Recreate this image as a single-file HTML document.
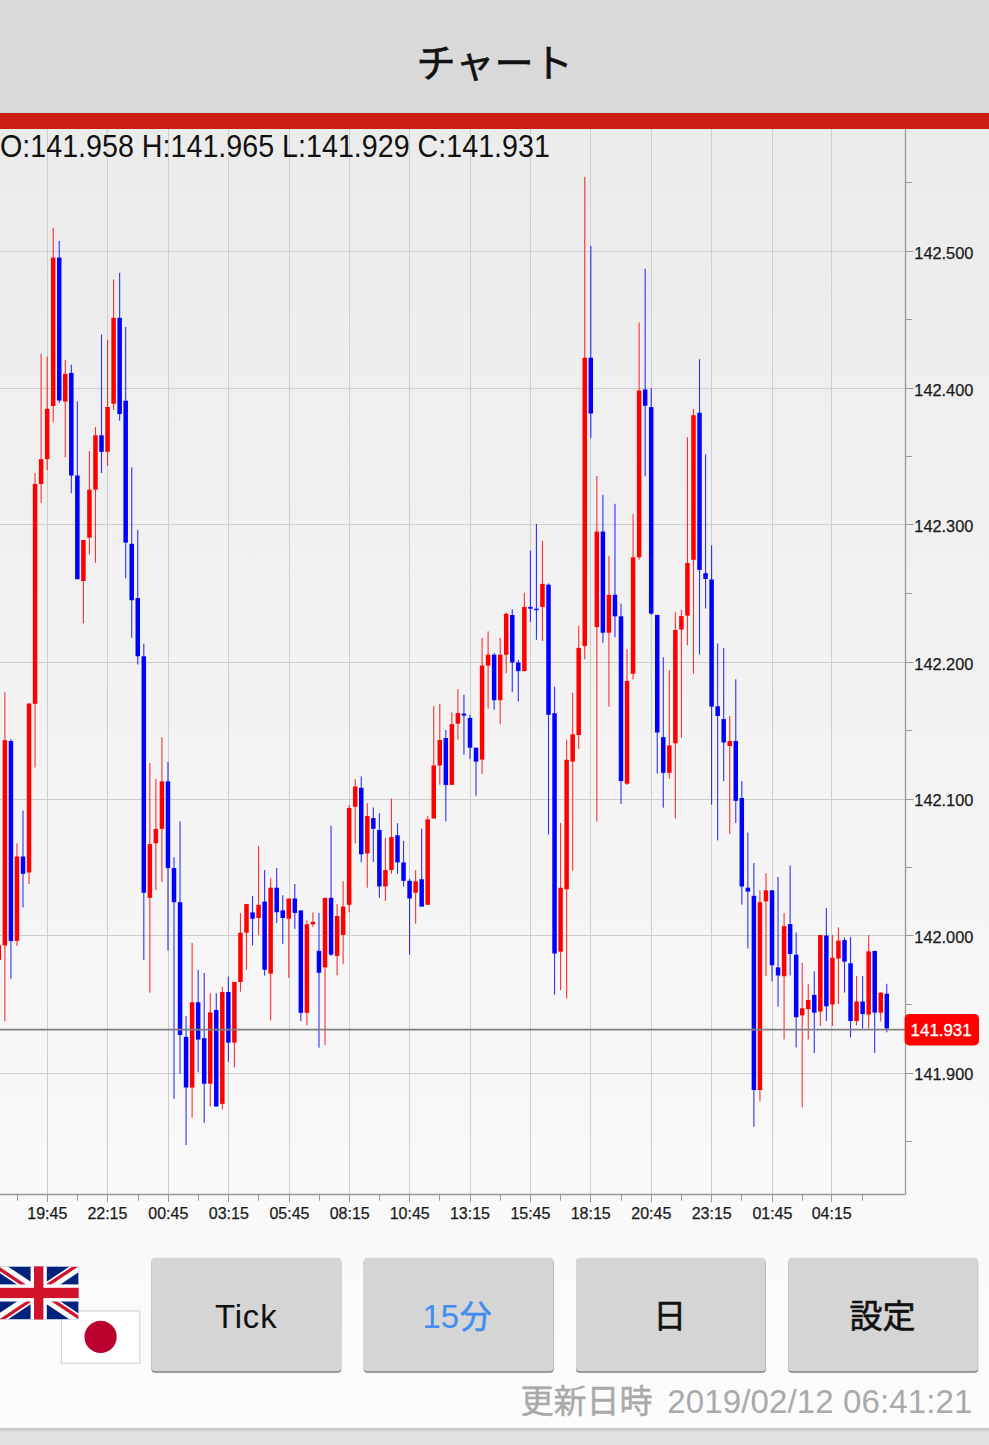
<!DOCTYPE html>
<html><head><meta charset="utf-8"><title>chart</title>
<style>
html,body{margin:0;padding:0;}
body{width:989px;height:1445px;overflow:hidden;background:#f4f4f4;font-family:"Liberation Sans",sans-serif;}
#root{position:relative;width:989px;height:1445px;overflow:hidden;background:linear-gradient(to bottom,#ebebeb 129px,#fcfcfc 1428px);}
#hdr{position:absolute;left:0;top:0;width:989px;height:113px;background:#d9d9d9;}
#bar{position:absolute;left:0;top:112.6px;width:989px;height:16.2px;background:#cc1e14;}
#ohlc{position:absolute;left:0.2px;top:128.9px;font-size:30.6px;line-height:34px;color:#111;white-space:nowrap;transform:scaleX(0.937);transform-origin:0 0;}
#foot{position:absolute;left:0;top:1427.8px;width:989px;height:18px;background:linear-gradient(to bottom,#c6c6c6 0,#cacaca 2px,#dcdcdc 3.5px,#e2e2e2 4.5px,#e2e2e2 100%);}
svg{position:absolute;left:0;top:0;}
svg text{font-family:"Liberation Sans",sans-serif;}
svg text.cjk{font-family:"Liberation Sans","Noto Sans CJK JP",sans-serif;}
.g{stroke:#cecece;stroke-width:1;}
.ax{stroke:#999;stroke-width:1.3;}
.tk{stroke:#999;stroke-width:1;}
.pl{font-size:16.35px;fill:#1a1a1a;stroke:#1a1a1a;stroke-width:0.25px;}
.tl{font-size:16px;fill:#1a1a1a;stroke:#1a1a1a;stroke-width:0.25px;}
</style></head>
<body>
<div id="root">
<div id="hdr"></div>
<div id="bar"></div>
<div id="foot"></div>
<svg width="989" height="1445" viewBox="0 0 989 1445">
<line x1="47.5" y1="129" x2="47.5" y2="1194.5" class="g"/>
<line x1="107.5" y1="129" x2="107.5" y2="1194.5" class="g"/>
<line x1="168.5" y1="129" x2="168.5" y2="1194.5" class="g"/>
<line x1="228.5" y1="129" x2="228.5" y2="1194.5" class="g"/>
<line x1="289.5" y1="129" x2="289.5" y2="1194.5" class="g"/>
<line x1="349.5" y1="129" x2="349.5" y2="1194.5" class="g"/>
<line x1="409.5" y1="129" x2="409.5" y2="1194.5" class="g"/>
<line x1="470.5" y1="129" x2="470.5" y2="1194.5" class="g"/>
<line x1="530.5" y1="129" x2="530.5" y2="1194.5" class="g"/>
<line x1="590.5" y1="129" x2="590.5" y2="1194.5" class="g"/>
<line x1="651.5" y1="129" x2="651.5" y2="1194.5" class="g"/>
<line x1="711.5" y1="129" x2="711.5" y2="1194.5" class="g"/>
<line x1="772.5" y1="129" x2="772.5" y2="1194.5" class="g"/>
<line x1="831.5" y1="129" x2="831.5" y2="1194.5" class="g"/>
<line x1="0" y1="251.5" x2="913.5" y2="251.5" class="g"/>
<line x1="0" y1="388.5" x2="913.5" y2="388.5" class="g"/>
<line x1="0" y1="524.5" x2="913.5" y2="524.5" class="g"/>
<line x1="0" y1="662.5" x2="913.5" y2="662.5" class="g"/>
<line x1="0" y1="799.5" x2="913.5" y2="799.5" class="g"/>
<line x1="0" y1="935.5" x2="913.5" y2="935.5" class="g"/>
<line x1="0" y1="1073.5" x2="913.5" y2="1073.5" class="g"/>
<line x1="905.5" y1="129" x2="905.5" y2="1194.5" class="ax"/>
<line x1="0" y1="1194.5" x2="905.5" y2="1194.5" class="ax"/>
<line x1="905.5" y1="182.5" x2="911.9" y2="182.5" class="tk"/>
<line x1="905.5" y1="319.5" x2="911.9" y2="319.5" class="tk"/>
<line x1="905.5" y1="456.5" x2="911.9" y2="456.5" class="tk"/>
<line x1="905.5" y1="593.5" x2="911.9" y2="593.5" class="tk"/>
<line x1="905.5" y1="730.5" x2="911.9" y2="730.5" class="tk"/>
<line x1="905.5" y1="867.5" x2="911.9" y2="867.5" class="tk"/>
<line x1="905.5" y1="1004.5" x2="911.9" y2="1004.5" class="tk"/>
<line x1="905.5" y1="1141.5" x2="911.9" y2="1141.5" class="tk"/>
<line x1="905.5" y1="251.5" x2="913.3" y2="251.5" class="tk"/>
<line x1="905.5" y1="388.5" x2="913.3" y2="388.5" class="tk"/>
<line x1="905.5" y1="524.5" x2="913.3" y2="524.5" class="tk"/>
<line x1="905.5" y1="662.5" x2="913.3" y2="662.5" class="tk"/>
<line x1="905.5" y1="799.5" x2="913.3" y2="799.5" class="tk"/>
<line x1="905.5" y1="935.5" x2="913.3" y2="935.5" class="tk"/>
<line x1="905.5" y1="1073.5" x2="913.3" y2="1073.5" class="tk"/>
<line x1="17.5" y1="1194.5" x2="17.5" y2="1200.7" class="tk"/>
<line x1="47.5" y1="1194.5" x2="47.5" y2="1202.1" class="tk"/>
<line x1="77.5" y1="1194.5" x2="77.5" y2="1200.7" class="tk"/>
<line x1="107.5" y1="1194.5" x2="107.5" y2="1202.1" class="tk"/>
<line x1="138.5" y1="1194.5" x2="138.5" y2="1200.7" class="tk"/>
<line x1="168.5" y1="1194.5" x2="168.5" y2="1202.1" class="tk"/>
<line x1="198.5" y1="1194.5" x2="198.5" y2="1200.7" class="tk"/>
<line x1="228.5" y1="1194.5" x2="228.5" y2="1202.1" class="tk"/>
<line x1="258.5" y1="1194.5" x2="258.5" y2="1200.7" class="tk"/>
<line x1="289.5" y1="1194.5" x2="289.5" y2="1202.1" class="tk"/>
<line x1="319.5" y1="1194.5" x2="319.5" y2="1200.7" class="tk"/>
<line x1="349.5" y1="1194.5" x2="349.5" y2="1202.1" class="tk"/>
<line x1="379.5" y1="1194.5" x2="379.5" y2="1200.7" class="tk"/>
<line x1="409.5" y1="1194.5" x2="409.5" y2="1202.1" class="tk"/>
<line x1="439.5" y1="1194.5" x2="439.5" y2="1200.7" class="tk"/>
<line x1="470.5" y1="1194.5" x2="470.5" y2="1202.1" class="tk"/>
<line x1="500.5" y1="1194.5" x2="500.5" y2="1200.7" class="tk"/>
<line x1="530.5" y1="1194.5" x2="530.5" y2="1202.1" class="tk"/>
<line x1="560.5" y1="1194.5" x2="560.5" y2="1200.7" class="tk"/>
<line x1="590.5" y1="1194.5" x2="590.5" y2="1202.1" class="tk"/>
<line x1="621.5" y1="1194.5" x2="621.5" y2="1200.7" class="tk"/>
<line x1="651.5" y1="1194.5" x2="651.5" y2="1202.1" class="tk"/>
<line x1="681.5" y1="1194.5" x2="681.5" y2="1200.7" class="tk"/>
<line x1="711.5" y1="1194.5" x2="711.5" y2="1202.1" class="tk"/>
<line x1="741.5" y1="1194.5" x2="741.5" y2="1200.7" class="tk"/>
<line x1="772.5" y1="1194.5" x2="772.5" y2="1202.1" class="tk"/>
<line x1="802.5" y1="1194.5" x2="802.5" y2="1200.7" class="tk"/>
<line x1="831.5" y1="1194.5" x2="831.5" y2="1202.1" class="tk"/>
<line x1="862.5" y1="1194.5" x2="862.5" y2="1200.7" class="tk"/>
<rect x="-1.72" y="940.0" width="1.1" height="25.0" fill="#ff0000" opacity="0.8"/>
<rect x="-3.42" y="945.4" width="4.5" height="14.4" fill="#ff0000"/>
<rect x="4.32" y="692.2" width="1.1" height="329.1" fill="#ff0000" opacity="0.8"/>
<rect x="2.62" y="740.2" width="4.5" height="205.2" fill="#ff0000"/>
<rect x="10.36" y="739.0" width="1.1" height="239.8" fill="#0000ff" opacity="0.8"/>
<rect x="8.66" y="741.0" width="4.5" height="199.9" fill="#0000ff"/>
<rect x="16.40" y="843.3" width="1.1" height="102.6" fill="#ff0000" opacity="0.8"/>
<rect x="14.70" y="856.5" width="4.5" height="84.4" fill="#ff0000"/>
<rect x="22.44" y="810.5" width="1.1" height="97.0" fill="#0000ff" opacity="0.8"/>
<rect x="20.74" y="856.5" width="4.5" height="17.3" fill="#0000ff"/>
<rect x="28.48" y="703.5" width="1.1" height="180.5" fill="#ff0000" opacity="0.8"/>
<rect x="26.78" y="703.5" width="4.5" height="169.0" fill="#ff0000"/>
<rect x="34.52" y="473.0" width="1.1" height="294.5" fill="#ff0000" opacity="0.8"/>
<rect x="32.82" y="483.9" width="4.5" height="219.9" fill="#ff0000"/>
<rect x="40.56" y="353.7" width="1.1" height="149.1" fill="#ff0000" opacity="0.8"/>
<rect x="38.86" y="459.1" width="4.5" height="24.8" fill="#ff0000"/>
<rect x="46.60" y="356.7" width="1.1" height="113.3" fill="#ff0000" opacity="0.8"/>
<rect x="44.90" y="408.8" width="4.5" height="50.3" fill="#ff0000"/>
<rect x="52.64" y="227.8" width="1.1" height="194.1" fill="#ff0000" opacity="0.8"/>
<rect x="50.94" y="257.6" width="4.5" height="148.4" fill="#ff0000"/>
<rect x="58.68" y="241.0" width="1.1" height="162.0" fill="#0000ff" opacity="0.8"/>
<rect x="56.98" y="257.6" width="4.5" height="142.9" fill="#0000ff"/>
<rect x="64.72" y="360.0" width="1.1" height="97.3" fill="#ff0000" opacity="0.8"/>
<rect x="63.02" y="373.9" width="4.5" height="27.6" fill="#ff0000"/>
<rect x="70.76" y="364.8" width="1.1" height="128.4" fill="#0000ff" opacity="0.8"/>
<rect x="69.06" y="372.9" width="4.5" height="102.6" fill="#0000ff"/>
<rect x="76.80" y="401.5" width="1.1" height="177.7" fill="#0000ff" opacity="0.8"/>
<rect x="75.10" y="475.5" width="4.5" height="103.7" fill="#0000ff"/>
<rect x="82.84" y="540.0" width="1.1" height="83.4" fill="#ff0000" opacity="0.8"/>
<rect x="81.14" y="540.0" width="4.5" height="41.0" fill="#ff0000"/>
<rect x="88.88" y="451.0" width="1.1" height="103.5" fill="#ff0000" opacity="0.8"/>
<rect x="87.18" y="489.7" width="4.5" height="48.0" fill="#ff0000"/>
<rect x="94.92" y="427.0" width="1.1" height="135.8" fill="#ff0000" opacity="0.8"/>
<rect x="93.22" y="435.3" width="4.5" height="54.4" fill="#ff0000"/>
<rect x="100.96" y="334.5" width="1.1" height="138.5" fill="#0000ff" opacity="0.8"/>
<rect x="99.26" y="435.3" width="4.5" height="16.5" fill="#0000ff"/>
<rect x="107.01" y="339.8" width="1.1" height="126.1" fill="#ff0000" opacity="0.8"/>
<rect x="105.31" y="407.0" width="4.5" height="44.8" fill="#ff0000"/>
<rect x="113.05" y="279.6" width="1.1" height="130.2" fill="#ff0000" opacity="0.8"/>
<rect x="111.35" y="317.8" width="4.5" height="85.9" fill="#ff0000"/>
<rect x="119.09" y="272.8" width="1.1" height="147.9" fill="#0000ff" opacity="0.8"/>
<rect x="117.39" y="317.8" width="4.5" height="96.3" fill="#0000ff"/>
<rect x="125.13" y="326.9" width="1.1" height="251.5" fill="#0000ff" opacity="0.8"/>
<rect x="123.43" y="400.7" width="4.5" height="141.9" fill="#0000ff"/>
<rect x="131.17" y="467.4" width="1.1" height="170.4" fill="#0000ff" opacity="0.8"/>
<rect x="129.47" y="543.8" width="4.5" height="56.4" fill="#0000ff"/>
<rect x="137.21" y="529.9" width="1.1" height="134.7" fill="#0000ff" opacity="0.8"/>
<rect x="135.51" y="598.1" width="4.5" height="58.2" fill="#0000ff"/>
<rect x="143.25" y="643.6" width="1.1" height="316.2" fill="#0000ff" opacity="0.8"/>
<rect x="141.55" y="656.3" width="4.5" height="236.5" fill="#0000ff"/>
<rect x="149.29" y="763.0" width="1.1" height="229.7" fill="#ff0000" opacity="0.8"/>
<rect x="147.59" y="844.1" width="4.5" height="53.7" fill="#ff0000"/>
<rect x="155.33" y="778.9" width="1.1" height="111.3" fill="#ff0000" opacity="0.8"/>
<rect x="153.63" y="828.9" width="4.5" height="14.4" fill="#ff0000"/>
<rect x="161.37" y="737.2" width="1.1" height="144.8" fill="#ff0000" opacity="0.8"/>
<rect x="159.67" y="781.4" width="4.5" height="47.5" fill="#ff0000"/>
<rect x="167.41" y="762.0" width="1.1" height="188.5" fill="#0000ff" opacity="0.8"/>
<rect x="165.71" y="781.4" width="4.5" height="86.7" fill="#0000ff"/>
<rect x="173.45" y="857.2" width="1.1" height="241.7" fill="#0000ff" opacity="0.8"/>
<rect x="171.75" y="868.1" width="4.5" height="34.1" fill="#0000ff"/>
<rect x="179.49" y="821.3" width="1.1" height="252.3" fill="#0000ff" opacity="0.8"/>
<rect x="177.79" y="902.2" width="4.5" height="132.7" fill="#0000ff"/>
<rect x="185.53" y="1016.2" width="1.1" height="128.9" fill="#0000ff" opacity="0.8"/>
<rect x="183.83" y="1036.9" width="4.5" height="50.6" fill="#0000ff"/>
<rect x="191.57" y="942.9" width="1.1" height="174.9" fill="#ff0000" opacity="0.8"/>
<rect x="189.87" y="1002.3" width="4.5" height="85.2" fill="#ff0000"/>
<rect x="197.61" y="970.0" width="1.1" height="102.3" fill="#0000ff" opacity="0.8"/>
<rect x="195.91" y="1002.3" width="4.5" height="37.2" fill="#0000ff"/>
<rect x="203.65" y="973.0" width="1.1" height="149.9" fill="#0000ff" opacity="0.8"/>
<rect x="201.95" y="1038.2" width="4.5" height="45.5" fill="#0000ff"/>
<rect x="209.69" y="993.2" width="1.1" height="113.3" fill="#ff0000" opacity="0.8"/>
<rect x="207.99" y="1012.4" width="4.5" height="71.3" fill="#ff0000"/>
<rect x="215.73" y="993.2" width="1.1" height="113.3" fill="#0000ff" opacity="0.8"/>
<rect x="214.03" y="1009.9" width="4.5" height="96.6" fill="#0000ff"/>
<rect x="221.77" y="986.9" width="1.1" height="122.6" fill="#ff0000" opacity="0.8"/>
<rect x="220.07" y="992.0" width="4.5" height="111.9" fill="#ff0000"/>
<rect x="227.81" y="976.7" width="1.1" height="85.3" fill="#0000ff" opacity="0.8"/>
<rect x="226.12" y="992.0" width="4.5" height="50.6" fill="#0000ff"/>
<rect x="233.86" y="982.0" width="1.1" height="85.2" fill="#ff0000" opacity="0.8"/>
<rect x="232.16" y="982.0" width="4.5" height="60.6" fill="#ff0000"/>
<rect x="239.90" y="913.0" width="1.1" height="78.7" fill="#ff0000" opacity="0.8"/>
<rect x="238.20" y="932.7" width="4.5" height="49.3" fill="#ff0000"/>
<rect x="245.94" y="904.1" width="1.1" height="65.8" fill="#ff0000" opacity="0.8"/>
<rect x="244.24" y="904.1" width="4.5" height="28.6" fill="#ff0000"/>
<rect x="251.98" y="896.0" width="1.1" height="49.3" fill="#0000ff" opacity="0.8"/>
<rect x="250.28" y="912.4" width="4.5" height="6.3" fill="#0000ff"/>
<rect x="258.02" y="845.9" width="1.1" height="89.0" fill="#ff0000" opacity="0.8"/>
<rect x="256.32" y="904.8" width="4.5" height="13.2" fill="#ff0000"/>
<rect x="264.06" y="870.0" width="1.1" height="105.6" fill="#0000ff" opacity="0.8"/>
<rect x="262.36" y="901.6" width="4.5" height="68.2" fill="#0000ff"/>
<rect x="270.10" y="878.3" width="1.1" height="142.1" fill="#ff0000" opacity="0.8"/>
<rect x="268.40" y="887.7" width="4.5" height="85.9" fill="#ff0000"/>
<rect x="276.14" y="867.9" width="1.1" height="55.1" fill="#0000ff" opacity="0.8"/>
<rect x="274.44" y="887.7" width="4.5" height="24.5" fill="#0000ff"/>
<rect x="282.18" y="895.2" width="1.1" height="48.6" fill="#0000ff" opacity="0.8"/>
<rect x="280.48" y="910.4" width="4.5" height="7.6" fill="#0000ff"/>
<rect x="288.22" y="898.5" width="1.1" height="79.6" fill="#ff0000" opacity="0.8"/>
<rect x="286.52" y="898.5" width="4.5" height="20.2" fill="#ff0000"/>
<rect x="294.26" y="883.9" width="1.1" height="45.0" fill="#0000ff" opacity="0.8"/>
<rect x="292.56" y="898.5" width="4.5" height="14.4" fill="#0000ff"/>
<rect x="300.30" y="910.4" width="1.1" height="110.7" fill="#0000ff" opacity="0.8"/>
<rect x="298.60" y="910.4" width="4.5" height="102.4" fill="#0000ff"/>
<rect x="306.34" y="920.5" width="1.1" height="104.9" fill="#ff0000" opacity="0.8"/>
<rect x="304.64" y="924.3" width="4.5" height="88.5" fill="#ff0000"/>
<rect x="312.38" y="912.4" width="1.1" height="14.4" fill="#ff0000" opacity="0.8"/>
<rect x="310.68" y="921.8" width="4.5" height="2.5" fill="#ff0000"/>
<rect x="318.42" y="912.9" width="1.1" height="134.8" fill="#0000ff" opacity="0.8"/>
<rect x="316.72" y="950.8" width="4.5" height="22.0" fill="#0000ff"/>
<rect x="324.46" y="897.8" width="1.1" height="147.3" fill="#ff0000" opacity="0.8"/>
<rect x="322.76" y="897.8" width="4.5" height="69.5" fill="#ff0000"/>
<rect x="330.50" y="825.7" width="1.1" height="130.2" fill="#0000ff" opacity="0.8"/>
<rect x="328.80" y="897.8" width="4.5" height="56.8" fill="#0000ff"/>
<rect x="336.54" y="904.1" width="1.1" height="71.3" fill="#ff0000" opacity="0.8"/>
<rect x="334.84" y="916.0" width="4.5" height="39.9" fill="#ff0000"/>
<rect x="342.58" y="881.3" width="1.1" height="82.9" fill="#ff0000" opacity="0.8"/>
<rect x="340.88" y="906.6" width="4.5" height="28.3" fill="#ff0000"/>
<rect x="348.62" y="805.0" width="1.1" height="107.4" fill="#ff0000" opacity="0.8"/>
<rect x="346.92" y="808.0" width="4.5" height="96.8" fill="#ff0000"/>
<rect x="354.67" y="779.0" width="1.1" height="64.4" fill="#ff0000" opacity="0.8"/>
<rect x="352.97" y="786.5" width="4.5" height="20.3" fill="#ff0000"/>
<rect x="360.71" y="776.4" width="1.1" height="86.0" fill="#0000ff" opacity="0.8"/>
<rect x="359.01" y="787.8" width="4.5" height="66.5" fill="#0000ff"/>
<rect x="366.75" y="803.0" width="1.1" height="84.7" fill="#ff0000" opacity="0.8"/>
<rect x="365.05" y="816.1" width="4.5" height="37.4" fill="#ff0000"/>
<rect x="372.79" y="807.5" width="1.1" height="54.4" fill="#0000ff" opacity="0.8"/>
<rect x="371.09" y="818.1" width="4.5" height="10.7" fill="#0000ff"/>
<rect x="378.83" y="813.1" width="1.1" height="84.7" fill="#0000ff" opacity="0.8"/>
<rect x="377.13" y="830.0" width="4.5" height="56.4" fill="#0000ff"/>
<rect x="384.87" y="837.9" width="1.1" height="63.1" fill="#ff0000" opacity="0.8"/>
<rect x="383.17" y="870.0" width="4.5" height="16.4" fill="#ff0000"/>
<rect x="390.91" y="798.7" width="1.1" height="75.1" fill="#ff0000" opacity="0.8"/>
<rect x="389.21" y="837.1" width="4.5" height="32.9" fill="#ff0000"/>
<rect x="396.95" y="823.2" width="1.1" height="50.6" fill="#0000ff" opacity="0.8"/>
<rect x="395.25" y="835.3" width="4.5" height="27.1" fill="#0000ff"/>
<rect x="402.99" y="840.9" width="1.1" height="45.5" fill="#0000ff" opacity="0.8"/>
<rect x="401.29" y="862.4" width="4.5" height="18.4" fill="#0000ff"/>
<rect x="409.03" y="878.8" width="1.1" height="75.8" fill="#0000ff" opacity="0.8"/>
<rect x="407.33" y="880.8" width="4.5" height="17.7" fill="#0000ff"/>
<rect x="415.07" y="870.0" width="1.1" height="53.6" fill="#ff0000" opacity="0.8"/>
<rect x="413.37" y="881.3" width="4.5" height="11.4" fill="#ff0000"/>
<rect x="421.11" y="828.8" width="1.1" height="77.8" fill="#0000ff" opacity="0.8"/>
<rect x="419.41" y="879.3" width="4.5" height="27.3" fill="#0000ff"/>
<rect x="427.15" y="816.1" width="1.1" height="88.7" fill="#ff0000" opacity="0.8"/>
<rect x="425.45" y="819.4" width="4.5" height="85.4" fill="#ff0000"/>
<rect x="433.19" y="706.0" width="1.1" height="112.5" fill="#ff0000" opacity="0.8"/>
<rect x="431.49" y="765.5" width="4.5" height="53.0" fill="#ff0000"/>
<rect x="439.23" y="704.0" width="1.1" height="80.6" fill="#ff0000" opacity="0.8"/>
<rect x="437.53" y="740.1" width="4.5" height="25.4" fill="#ff0000"/>
<rect x="445.27" y="730.0" width="1.1" height="91.5" fill="#0000ff" opacity="0.8"/>
<rect x="443.57" y="738.1" width="4.5" height="46.8" fill="#0000ff"/>
<rect x="451.31" y="712.3" width="1.1" height="72.6" fill="#ff0000" opacity="0.8"/>
<rect x="449.61" y="724.2" width="4.5" height="60.7" fill="#ff0000"/>
<rect x="457.35" y="689.1" width="1.1" height="50.5" fill="#ff0000" opacity="0.8"/>
<rect x="455.65" y="713.1" width="4.5" height="10.6" fill="#ff0000"/>
<rect x="463.39" y="694.6" width="1.1" height="60.2" fill="#0000ff" opacity="0.8"/>
<rect x="461.69" y="713.6" width="4.5" height="2.0" fill="#0000ff"/>
<rect x="469.43" y="714.9" width="1.1" height="44.2" fill="#0000ff" opacity="0.8"/>
<rect x="467.73" y="717.9" width="4.5" height="29.8" fill="#0000ff"/>
<rect x="475.48" y="747.7" width="1.1" height="48.1" fill="#0000ff" opacity="0.8"/>
<rect x="473.78" y="747.7" width="4.5" height="13.9" fill="#0000ff"/>
<rect x="481.52" y="637.8" width="1.1" height="136.0" fill="#ff0000" opacity="0.8"/>
<rect x="479.82" y="665.6" width="4.5" height="94.0" fill="#ff0000"/>
<rect x="487.56" y="631.4" width="1.1" height="77.1" fill="#ff0000" opacity="0.8"/>
<rect x="485.86" y="654.7" width="4.5" height="10.9" fill="#ff0000"/>
<rect x="493.60" y="652.9" width="1.1" height="56.9" fill="#0000ff" opacity="0.8"/>
<rect x="491.90" y="654.7" width="4.5" height="45.5" fill="#0000ff"/>
<rect x="499.64" y="637.8" width="1.1" height="86.4" fill="#ff0000" opacity="0.8"/>
<rect x="497.94" y="654.7" width="4.5" height="45.5" fill="#ff0000"/>
<rect x="505.68" y="612.5" width="1.1" height="60.7" fill="#ff0000" opacity="0.8"/>
<rect x="503.98" y="613.8" width="4.5" height="40.9" fill="#ff0000"/>
<rect x="511.72" y="609.2" width="1.1" height="82.9" fill="#0000ff" opacity="0.8"/>
<rect x="510.02" y="615.0" width="4.5" height="47.5" fill="#0000ff"/>
<rect x="517.76" y="659.8" width="1.1" height="41.7" fill="#0000ff" opacity="0.8"/>
<rect x="516.06" y="662.5" width="4.5" height="8.6" fill="#0000ff"/>
<rect x="523.80" y="592.8" width="1.1" height="78.3" fill="#ff0000" opacity="0.8"/>
<rect x="522.10" y="606.9" width="4.5" height="64.2" fill="#ff0000"/>
<rect x="529.84" y="550.6" width="1.1" height="71.2" fill="#0000ff" opacity="0.8"/>
<rect x="528.14" y="606.9" width="4.5" height="1.8" fill="#0000ff"/>
<rect x="535.88" y="524.0" width="1.1" height="115.8" fill="#0000ff" opacity="0.8"/>
<rect x="534.18" y="608.7" width="4.5" height="1.5" fill="#0000ff"/>
<rect x="541.92" y="541.0" width="1.1" height="100.0" fill="#ff0000" opacity="0.8"/>
<rect x="540.22" y="583.9" width="4.5" height="23.0" fill="#ff0000"/>
<rect x="547.96" y="583.4" width="1.1" height="251.1" fill="#0000ff" opacity="0.8"/>
<rect x="546.26" y="584.7" width="4.5" height="130.1" fill="#0000ff"/>
<rect x="554.00" y="686.8" width="1.1" height="307.9" fill="#0000ff" opacity="0.8"/>
<rect x="552.30" y="713.2" width="4.5" height="240.3" fill="#0000ff"/>
<rect x="560.04" y="823.0" width="1.1" height="167.2" fill="#ff0000" opacity="0.8"/>
<rect x="558.34" y="887.8" width="4.5" height="63.9" fill="#ff0000"/>
<rect x="566.08" y="739.9" width="1.1" height="258.6" fill="#ff0000" opacity="0.8"/>
<rect x="564.38" y="759.8" width="4.5" height="129.5" fill="#ff0000"/>
<rect x="572.12" y="692.8" width="1.1" height="178.1" fill="#ff0000" opacity="0.8"/>
<rect x="570.42" y="734.3" width="4.5" height="27.3" fill="#ff0000"/>
<rect x="578.16" y="625.9" width="1.1" height="123.0" fill="#ff0000" opacity="0.8"/>
<rect x="576.46" y="647.9" width="4.5" height="87.1" fill="#ff0000"/>
<rect x="584.20" y="176.9" width="1.1" height="482.4" fill="#ff0000" opacity="0.8"/>
<rect x="582.50" y="357.7" width="4.5" height="288.4" fill="#ff0000"/>
<rect x="590.25" y="245.9" width="1.1" height="192.2" fill="#0000ff" opacity="0.8"/>
<rect x="588.54" y="357.7" width="4.5" height="55.8" fill="#0000ff"/>
<rect x="596.29" y="476.0" width="1.1" height="345.5" fill="#ff0000" opacity="0.8"/>
<rect x="594.59" y="531.6" width="4.5" height="95.5" fill="#ff0000"/>
<rect x="602.33" y="494.9" width="1.1" height="147.9" fill="#0000ff" opacity="0.8"/>
<rect x="600.63" y="531.6" width="4.5" height="101.1" fill="#0000ff"/>
<rect x="608.37" y="556.1" width="1.1" height="150.5" fill="#ff0000" opacity="0.8"/>
<rect x="606.67" y="594.8" width="4.5" height="37.9" fill="#ff0000"/>
<rect x="614.41" y="503.8" width="1.1" height="133.5" fill="#0000ff" opacity="0.8"/>
<rect x="612.71" y="594.8" width="4.5" height="21.5" fill="#0000ff"/>
<rect x="620.45" y="603.6" width="1.1" height="200.4" fill="#0000ff" opacity="0.8"/>
<rect x="618.75" y="616.3" width="4.5" height="164.8" fill="#0000ff"/>
<rect x="626.49" y="649.1" width="1.1" height="135.9" fill="#ff0000" opacity="0.8"/>
<rect x="624.79" y="680.9" width="4.5" height="102.8" fill="#ff0000"/>
<rect x="632.53" y="514.2" width="1.1" height="165.2" fill="#ff0000" opacity="0.8"/>
<rect x="630.83" y="557.3" width="4.5" height="116.5" fill="#ff0000"/>
<rect x="638.57" y="322.5" width="1.1" height="237.2" fill="#ff0000" opacity="0.8"/>
<rect x="636.87" y="390.5" width="4.5" height="166.8" fill="#ff0000"/>
<rect x="644.61" y="268.7" width="1.1" height="207.7" fill="#0000ff" opacity="0.8"/>
<rect x="642.91" y="389.5" width="4.5" height="16.2" fill="#0000ff"/>
<rect x="650.65" y="388.3" width="1.1" height="226.6" fill="#0000ff" opacity="0.8"/>
<rect x="648.95" y="407.1" width="4.5" height="206.5" fill="#0000ff"/>
<rect x="656.69" y="614.9" width="1.1" height="158.6" fill="#0000ff" opacity="0.8"/>
<rect x="654.99" y="614.9" width="4.5" height="117.6" fill="#0000ff"/>
<rect x="662.73" y="657.3" width="1.1" height="150.4" fill="#0000ff" opacity="0.8"/>
<rect x="661.03" y="737.2" width="4.5" height="35.6" fill="#0000ff"/>
<rect x="668.77" y="670.0" width="1.1" height="108.6" fill="#ff0000" opacity="0.8"/>
<rect x="667.07" y="745.4" width="4.5" height="27.4" fill="#ff0000"/>
<rect x="674.81" y="612.3" width="1.1" height="206.2" fill="#ff0000" opacity="0.8"/>
<rect x="673.11" y="630.0" width="4.5" height="113.3" fill="#ff0000"/>
<rect x="680.85" y="609.8" width="1.1" height="128.0" fill="#ff0000" opacity="0.8"/>
<rect x="679.15" y="616.1" width="4.5" height="13.4" fill="#ff0000"/>
<rect x="686.89" y="437.2" width="1.1" height="208.0" fill="#ff0000" opacity="0.8"/>
<rect x="685.19" y="563.0" width="4.5" height="52.6" fill="#ff0000"/>
<rect x="692.93" y="408.9" width="1.1" height="264.9" fill="#ff0000" opacity="0.8"/>
<rect x="691.23" y="415.2" width="4.5" height="144.6" fill="#ff0000"/>
<rect x="698.97" y="359.2" width="1.1" height="295.4" fill="#0000ff" opacity="0.8"/>
<rect x="697.27" y="412.7" width="4.5" height="157.2" fill="#0000ff"/>
<rect x="705.01" y="454.4" width="1.1" height="154.1" fill="#0000ff" opacity="0.8"/>
<rect x="703.31" y="573.2" width="4.5" height="5.8" fill="#0000ff"/>
<rect x="711.05" y="545.3" width="1.1" height="259.3" fill="#0000ff" opacity="0.8"/>
<rect x="709.35" y="579.5" width="4.5" height="127.1" fill="#0000ff"/>
<rect x="717.10" y="643.4" width="1.1" height="197.0" fill="#0000ff" opacity="0.8"/>
<rect x="715.40" y="706.3" width="4.5" height="9.7" fill="#0000ff"/>
<rect x="723.14" y="648.2" width="1.1" height="132.9" fill="#0000ff" opacity="0.8"/>
<rect x="721.44" y="719.1" width="4.5" height="23.4" fill="#0000ff"/>
<rect x="729.18" y="716.0" width="1.1" height="118.0" fill="#ff0000" opacity="0.8"/>
<rect x="727.48" y="741.0" width="4.5" height="5.0" fill="#ff0000"/>
<rect x="735.22" y="679.3" width="1.1" height="143.7" fill="#0000ff" opacity="0.8"/>
<rect x="733.52" y="741.0" width="4.5" height="59.8" fill="#0000ff"/>
<rect x="741.26" y="781.1" width="1.1" height="123.5" fill="#0000ff" opacity="0.8"/>
<rect x="739.56" y="798.0" width="4.5" height="88.5" fill="#0000ff"/>
<rect x="747.30" y="832.5" width="1.1" height="116.0" fill="#0000ff" opacity="0.8"/>
<rect x="745.60" y="887.7" width="4.5" height="3.9" fill="#0000ff"/>
<rect x="753.34" y="863.0" width="1.1" height="263.6" fill="#0000ff" opacity="0.8"/>
<rect x="751.64" y="895.8" width="4.5" height="194.2" fill="#0000ff"/>
<rect x="759.38" y="890.3" width="1.1" height="211.0" fill="#ff0000" opacity="0.8"/>
<rect x="757.68" y="902.2" width="4.5" height="187.8" fill="#ff0000"/>
<rect x="765.42" y="873.1" width="1.1" height="103.1" fill="#ff0000" opacity="0.8"/>
<rect x="763.72" y="890.3" width="4.5" height="11.1" fill="#ff0000"/>
<rect x="771.46" y="890.3" width="1.1" height="91.0" fill="#0000ff" opacity="0.8"/>
<rect x="769.76" y="890.3" width="4.5" height="75.0" fill="#0000ff"/>
<rect x="777.50" y="876.9" width="1.1" height="129.7" fill="#0000ff" opacity="0.8"/>
<rect x="775.80" y="967.4" width="4.5" height="8.1" fill="#0000ff"/>
<rect x="783.54" y="913.0" width="1.1" height="126.4" fill="#ff0000" opacity="0.8"/>
<rect x="781.84" y="926.2" width="4.5" height="50.0" fill="#ff0000"/>
<rect x="789.58" y="865.5" width="1.1" height="110.0" fill="#0000ff" opacity="0.8"/>
<rect x="787.88" y="924.1" width="4.5" height="29.9" fill="#0000ff"/>
<rect x="795.62" y="932.5" width="1.1" height="115.0" fill="#0000ff" opacity="0.8"/>
<rect x="793.92" y="954.7" width="4.5" height="62.5" fill="#0000ff"/>
<rect x="801.66" y="962.8" width="1.1" height="144.6" fill="#ff0000" opacity="0.8"/>
<rect x="799.96" y="1008.3" width="4.5" height="7.1" fill="#ff0000"/>
<rect x="807.70" y="984.3" width="1.1" height="55.1" fill="#ff0000" opacity="0.8"/>
<rect x="806.00" y="1000.0" width="4.5" height="9.1" fill="#ff0000"/>
<rect x="813.74" y="971.2" width="1.1" height="81.9" fill="#0000ff" opacity="0.8"/>
<rect x="812.04" y="994.9" width="4.5" height="17.7" fill="#0000ff"/>
<rect x="819.78" y="935.0" width="1.1" height="91.0" fill="#ff0000" opacity="0.8"/>
<rect x="818.08" y="935.0" width="4.5" height="76.6" fill="#ff0000"/>
<rect x="825.82" y="908.0" width="1.1" height="113.0" fill="#0000ff" opacity="0.8"/>
<rect x="824.12" y="935.5" width="4.5" height="70.8" fill="#0000ff"/>
<rect x="831.87" y="935.0" width="1.1" height="91.0" fill="#ff0000" opacity="0.8"/>
<rect x="830.16" y="957.8" width="4.5" height="46.7" fill="#ff0000"/>
<rect x="837.91" y="927.4" width="1.1" height="76.6" fill="#ff0000" opacity="0.8"/>
<rect x="836.21" y="940.6" width="4.5" height="17.9" fill="#ff0000"/>
<rect x="843.95" y="937.5" width="1.1" height="55.1" fill="#0000ff" opacity="0.8"/>
<rect x="842.25" y="940.1" width="4.5" height="21.5" fill="#0000ff"/>
<rect x="849.99" y="937.0" width="1.1" height="100.4" fill="#0000ff" opacity="0.8"/>
<rect x="848.29" y="963.3" width="4.5" height="57.7" fill="#0000ff"/>
<rect x="856.03" y="976.0" width="1.1" height="49.3" fill="#ff0000" opacity="0.8"/>
<rect x="854.33" y="1001.5" width="4.5" height="19.5" fill="#ff0000"/>
<rect x="862.07" y="976.0" width="1.1" height="52.5" fill="#0000ff" opacity="0.8"/>
<rect x="860.37" y="1001.5" width="4.5" height="12.6" fill="#0000ff"/>
<rect x="868.11" y="935.0" width="1.1" height="93.5" fill="#ff0000" opacity="0.8"/>
<rect x="866.41" y="951.4" width="4.5" height="63.2" fill="#ff0000"/>
<rect x="874.15" y="950.9" width="1.1" height="102.2" fill="#0000ff" opacity="0.8"/>
<rect x="872.45" y="950.9" width="4.5" height="61.7" fill="#0000ff"/>
<rect x="880.19" y="992.6" width="1.1" height="28.9" fill="#ff0000" opacity="0.8"/>
<rect x="878.49" y="992.6" width="4.5" height="20.0" fill="#ff0000"/>
<rect x="886.23" y="983.8" width="1.1" height="48.5" fill="#0000ff" opacity="0.8"/>
<rect x="884.53" y="993.7" width="4.5" height="34.8" fill="#0000ff"/>
<line x1="0" y1="1029.7" x2="905.5" y2="1029.7" stroke="#808080" stroke-width="1.8"/>
<rect x="904.6" y="1013.95" width="74.4" height="31.5" rx="4.6" fill="#ff0000"/>
<text x="910.6" y="1035.9" style="font-size:16.9px;fill:#fff;stroke:#fff;stroke-width:0.3px">141.931</text>
<text x="914.3" y="258.6" class="pl">142.500</text>
<text x="914.3" y="395.6" class="pl">142.400</text>
<text x="914.3" y="532.0" class="pl">142.300</text>
<text x="914.3" y="669.5" class="pl">142.200</text>
<text x="914.3" y="806.3" class="pl">142.100</text>
<text x="914.3" y="942.9" class="pl">142.000</text>
<text x="914.3" y="1080.4" class="pl">141.900</text>
<text x="47.3" y="1218.6" class="tl" text-anchor="middle">19:45</text>
<text x="107.4" y="1218.6" class="tl" text-anchor="middle">22:15</text>
<text x="168.3" y="1218.6" class="tl" text-anchor="middle">00:45</text>
<text x="228.8" y="1218.6" class="tl" text-anchor="middle">03:15</text>
<text x="289.5" y="1218.6" class="tl" text-anchor="middle">05:45</text>
<text x="349.7" y="1218.6" class="tl" text-anchor="middle">08:15</text>
<text x="409.7" y="1218.6" class="tl" text-anchor="middle">10:45</text>
<text x="470.0" y="1218.6" class="tl" text-anchor="middle">13:15</text>
<text x="530.4" y="1218.6" class="tl" text-anchor="middle">15:45</text>
<text x="590.7" y="1218.6" class="tl" text-anchor="middle">18:15</text>
<text x="651.3" y="1218.6" class="tl" text-anchor="middle">20:45</text>
<text x="711.7" y="1218.6" class="tl" text-anchor="middle">23:15</text>
<text x="772.4" y="1218.6" class="tl" text-anchor="middle">01:45</text>
<text x="831.7" y="1218.6" class="tl" text-anchor="middle">04:15</text>
<text class="cjk" x="416.5" y="77.4" font-size="39.2" fill="#111" stroke="#111" stroke-width="0.6">チャート</text>
<rect x="151.4" y="1258.7" width="189.9" height="114.1" rx="3.8" fill="#808080"/>
<rect x="151.4" y="1257.7" width="189.6" height="113.6" rx="3.6" fill="#d5d5d5"/>
<rect x="363.7" y="1258.7" width="189.9" height="114.1" rx="3.8" fill="#808080"/>
<rect x="363.7" y="1257.7" width="189.6" height="113.6" rx="3.6" fill="#d5d5d5"/>
<rect x="576.0" y="1258.7" width="189.9" height="114.1" rx="3.8" fill="#808080"/>
<rect x="576.0" y="1257.7" width="189.6" height="113.6" rx="3.6" fill="#d5d5d5"/>
<rect x="788.3" y="1258.7" width="189.9" height="114.1" rx="3.8" fill="#808080"/>
<rect x="788.3" y="1257.7" width="189.6" height="113.6" rx="3.6" fill="#d5d5d5"/>
<text x="246.2" y="1327.9" font-size="32.8" letter-spacing="0.9" text-anchor="middle" fill="#111">Tick</text>
<text x="422.4" y="1327.9" font-size="32.8" fill="#3f8cf2">15</text>
<text class="cjk" x="459.8" y="1328.3" font-size="32" fill="#3f8cf2" stroke="#3f8cf2" stroke-width="0.5">分</text>
<text class="cjk" x="653.2" y="1328.4" font-size="33" fill="#111" stroke="#111" stroke-width="0.6">日</text>
<text class="cjk" x="849.4" y="1328.4" font-size="33" fill="#111" stroke="#111" stroke-width="0.6">設定</text>
<text class="cjk" x="520.6" y="1412.9" font-size="33" fill="#a9a9a9" stroke="#a9a9a9" stroke-width="0.4">更新日時</text>
<text x="972.3" y="1413.2" font-size="33" text-anchor="end" fill="#a9a9a9" textLength="305" lengthAdjust="spacing">2019/02/12 06:41:21</text>

<rect x="61.4" y="1311.0" width="78.4" height="52.2" fill="#fff" stroke="#d2d2d2" stroke-width="1.1"/>
<circle cx="100.6" cy="1336.9" r="16.1" fill="#bc002d"/>
<svg x="-1.2" y="1266.4" width="79.8" height="53.1" viewBox="0 0 60 30" preserveAspectRatio="none">
  <clipPath id="ukc"><rect width="60" height="30"/></clipPath>
  <clipPath id="ukt"><path d="M30,15 h30 v15 z v15 h-30 z h-30 v-15 z v-15 h30 z"/></clipPath>
  <g clip-path="url(#ukc)">
  <rect width="60" height="30" fill="#00247d"/>
  <path d="M0,0 L60,30 M60,0 L0,30" stroke="#fff" stroke-width="6"/>
  <path d="M0,0 L60,30 M60,0 L0,30" clip-path="url(#ukt)" stroke="#cf142b" stroke-width="4"/>
  </g>
</svg>
<rect x="30.6" y="1266.4" width="16.2" height="53.1" fill="#fff"/>
<rect x="0" y="1284.4" width="78.6" height="17.1" fill="#fff"/>
<rect x="34.0" y="1266.4" width="9.4" height="53.1" fill="#cf142b"/>
<rect x="0" y="1287.8" width="78.6" height="10.3" fill="#cf142b"/>

</svg>
<div id="ohlc">O:141.958 H:141.965 L:141.929 C:141.931</div>
</div>
</body></html>
